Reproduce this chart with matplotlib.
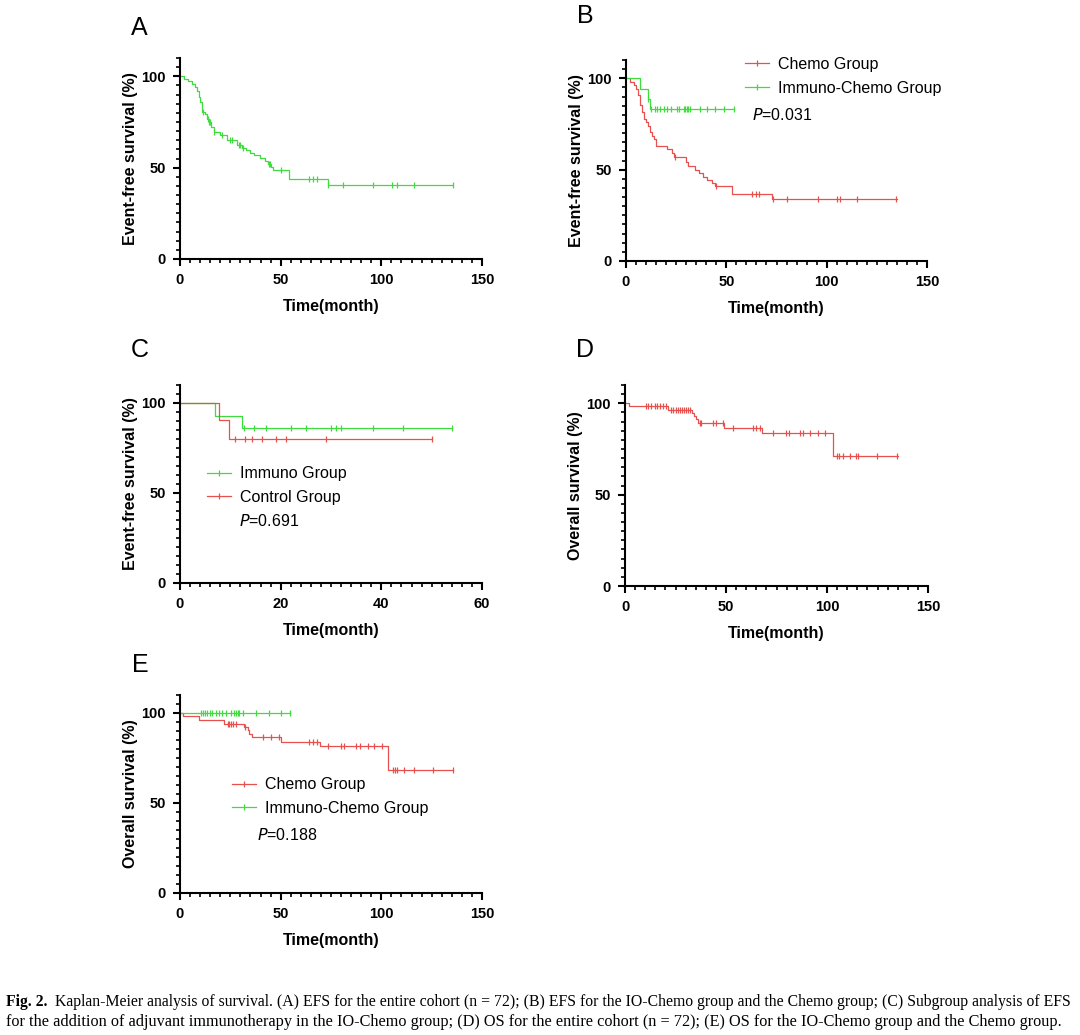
import numpy as np
import matplotlib
matplotlib.use("Agg")
import matplotlib.pyplot as plt
from matplotlib.lines import Line2D
from matplotlib.ticker import MultipleLocator

plt.rcParams['font.family'] = ['Liberation Sans', 'DejaVu Sans']

RED = '#e8504e'
GREEN = '#3fdc3f'

# ---- A: EFS entire cohort ----
a_t = [0, 2, 4, 6, 7.5, 8.5, 9.5, 10, 11, 12.5, 13.5, 14.5, 15.5, 17, 20, 23.5, 28.5,
       31, 33, 35, 37, 39.5, 42, 43.5, 45.3, 46.3, 54, 73.3]
a_s = [100, 98.6, 97.2, 95.8, 94.4, 91.7, 88.9, 86.1, 80.6, 79.2, 76.4, 75.0, 72.2, 69.4,
       68.0, 65.2, 62.5, 61.0, 59.6, 58.2, 56.7, 55.2, 53.7, 52.1, 50.6, 48.9, 43.6, 40.6]
a_end = 135.5
a_cens = [11.2, 14, 14.5, 15, 17, 21, 25, 26, 29.5, 30, 31.5, 44, 44.5, 50, 64, 66, 68,
          73.5, 81, 96, 105.5, 108, 116, 135.5]

# ---- B: EFS IO-Chemo vs Chemo ----
b_chemo_t = [0, 2, 3.8, 5, 6, 7, 8, 9, 10, 10.8, 12, 13, 13.8, 15, 20.4, 23, 24, 30, 31,
             34.5, 36.6, 38.6, 40.3, 42.8, 44.4, 52.7, 72.6]
b_chemo_s = [100, 98.1, 96.3, 94.4, 90.7, 85.2, 81.5, 77.8, 75.9, 74.1, 70.4, 68.5, 66.7,
             63.0, 61.1, 59.3, 56.7, 54.4, 51.9, 49.8, 47.9, 46.1, 44.6, 42.9, 41.1, 36.8, 33.9]
b_chemo_end = 135
b_chemo_cens = [24.5, 44.8, 63, 64.7, 66.3, 73.5, 80, 95.5, 105, 106.6, 115, 134.8]
b_io_t = [0, 7, 11, 12]
b_io_s = [100, 94.4, 88.9, 83.3]
b_io_end = 54
b_io_cens = [11, 12.5, 14.3, 15.4, 17, 19, 20.4, 22.4, 25.4, 26.4, 28.7, 29.5, 30.3, 30.8,
             32, 37, 40.3, 44.4, 48.6, 53.6]

# ---- C: subgroup EFS ----
c_imm_t = [0, 7, 12.3]
c_imm_s = [100, 92.9, 86.0]
c_imm_end = 54.1
c_imm_cens = [12.7, 14.7, 17, 22, 25, 30, 31, 32, 38.3, 44.3, 54.1]
c_ctl_t = [0, 7.8, 9.8]
c_ctl_s = [100, 90.5, 80.0]
c_ctl_end = 50.1
c_ctl_cens = [11, 13, 14.3, 16.3, 19, 21, 29, 50.1]

# ---- D: OS entire cohort ----
d_t = [0, 2, 21.3, 33, 34, 35, 36, 49, 68, 102.8]
d_s = [100, 98.5, 96.4, 94.8, 93.0, 91.2, 89.4, 86.7, 83.8, 71.0]
d_end = 135
d_cens = [10.2, 11.4, 13, 14.7, 15.9, 17.2, 18.8, 20.5, 23, 24, 25, 26, 27, 28, 29, 30,
          31, 32, 37, 37.5, 43.6, 45, 48.6, 53.6, 63.5, 65, 66.8, 73.4, 79.7, 81.3, 86.6,
          88.3, 91.6, 95.7, 99, 104.8, 106, 107.8, 111.4, 114.4, 115.5, 124.6, 134.9]

# ---- E: OS IO-Chemo vs Chemo ----
e_chemo_t = [0, 1.5, 9.5, 22, 32, 33.6, 34.5, 36, 50.2, 69.4, 103.5]
e_chemo_s = [100, 98.1, 96.0, 94.1, 92.2, 90.3, 88.4, 86.5, 84.0, 81.8, 68.6]
e_chemo_end = 135.5
e_chemo_cens = [23.6, 24.5, 25.5, 26.5, 27.8, 32.3, 41.1, 45.3, 49.4, 64, 66, 68, 73.7,
                80.2, 81.5, 87.4, 89.4, 93.5, 96.3, 100.2, 106, 107, 108, 111.3, 116,
                125.6, 135.4]
e_io_t = [0]
e_io_s = [100]
e_io_end = 54.4
e_io_cens = [10.3, 11.5, 12.5, 13.6, 14.8, 16.1, 17.8, 19.5, 21.1, 22.8, 25.3, 27, 27.8,
             28.6, 29.5, 31.1, 37.8, 44.4, 50.2, 54.4]


def km(ax, t, s, end, cens, color):
    ax.step(t + [end], s + [s[-1]], where='post', color=color, lw=0.9)
    idx = np.searchsorted(t, cens, side='right') - 1
    ax.plot(cens, np.array(s)[idx], ls='none', marker='|', ms=5, mew=0.9, color=color)


def style(ax, xmax, xmajor, xminor, ylabel):
    ax.set_xlim(0, xmax)
    ax.set_ylim(0, 110)
    ax.spines[['top', 'right']].set_visible(False)
    for sp in ('left', 'bottom'):
        ax.spines[sp].set_linewidth(1.5)
    ax.xaxis.set_major_locator(MultipleLocator(xmajor))
    ax.xaxis.set_minor_locator(MultipleLocator(xminor))
    ax.set_yticks([0, 50, 100])
    ax.yaxis.set_minor_locator(MultipleLocator(5))
    ax.tick_params(which='major', direction='out', length=5, width=1.5, labelsize=10.5, pad=5)
    ax.tick_params(which='minor', direction='out', length=3, width=1.2)
    for lab in ax.get_xticklabels() + ax.get_yticklabels():
        lab.set_fontweight('bold')
    ax.set_xlabel('Time(month)', fontsize=11.5, fontweight='bold')
    ax.set_ylabel(ylabel, fontsize=11.5, fontweight='bold')
    ax.yaxis.set_label_coords(-0.138, 0.5)
    ax.xaxis.set_label_coords(0.5, -0.2)


def legend(ax, entries, x, y):
    handles = [Line2D([0], [0], color=c, lw=0.9, marker='|', ms=5, mew=0.9) for c, _ in entries]
    ax.legend(handles, [l for _, l in entries], loc='center left', bbox_to_anchor=(x, y),
              frameon=False, fontsize=11.5, handlelength=1.5, handletextpad=0.6,
              labelspacing=0.55, borderpad=0, borderaxespad=0, numpoints=1)


def pval(ax, x, y, val):
    ax.text(x, y, r'$\it{P}$=' + val, transform=ax.transAxes, fontsize=11.5, va='center', ha='left')


W, H = 1080, 1035
fig = plt.figure(figsize=(W / 100, H / 100), dpi=100)


def box(left, right, bottom, height):
    return [left / W, (H - bottom) / H, (right - left) / W, height / H]


axA = fig.add_axes(box(180, 482, 259, 201))
axB = fig.add_axes(box(626, 927, 261, 201))
axC = fig.add_axes(box(180, 482, 583, 198))
axD = fig.add_axes(box(625, 928, 586, 201))
axE = fig.add_axes(box(180, 482, 893, 198))

km(axA, a_t, a_s, a_end, a_cens, GREEN)
style(axA, 150, 50, 5, 'Event-free survival (%)')

km(axB, b_chemo_t, b_chemo_s, b_chemo_end, b_chemo_cens, RED)
km(axB, b_io_t, b_io_s, b_io_end, b_io_cens, GREEN)
style(axB, 150, 50, 5, 'Event-free survival (%)')
legend(axB, [(RED, 'Chemo Group'), (GREEN, 'Immuno-Chemo Group')], 0.395, 0.918)
pval(axB, 0.419, 0.726, '0.031')

km(axC, c_imm_t, c_imm_s, c_imm_end, c_imm_cens, GREEN)
km(axC, c_ctl_t, c_ctl_s, c_ctl_end, c_ctl_cens, RED)
style(axC, 60, 20, 2, 'Event-free survival (%)')
legend(axC, [(GREEN, 'Immuno Group'), (RED, 'Control Group')], 0.089, 0.492)
pval(axC, 0.195, 0.313, '0.691')

km(axD, d_t, d_s, d_end, d_cens, RED)
style(axD, 150, 50, 5, 'Overall survival (%)')

km(axE, e_chemo_t, e_chemo_s, e_chemo_end, e_chemo_cens, RED)
km(axE, e_io_t, e_io_s, e_io_end, e_io_cens, GREEN)
style(axE, 150, 50, 5, 'Overall survival (%)')
legend(axE, [(RED, 'Chemo Group'), (GREEN, 'Immuno-Chemo Group')], 0.172, 0.487)
pval(axE, 0.255, 0.293, '0.188')

for letter, px, py in [('A', 139, 28), ('B', 585, 16), ('C', 140, 350), ('D', 585, 350), ('E', 140, 665)]:
    fig.text(px / W, 1 - py / H, letter, fontsize=18, ha='center', va='center')

# caption
cap1 = ('Kaplan-Meier analysis of survival. (A) EFS for the entire cohort (n = 72); (B) EFS for the '
        'IO-Chemo group and the Chemo group; (C) Subgroup analysis of EFS')
cap2 = ('for the addition of adjuvant immunotherapy in the IO-Chemo group; (D) OS for the entire '
        'cohort (n = 72); (E) OS for the IO-Chemo group and the Chemo group.')
serif = ['Liberation Serif', 'DejaVu Serif']
t0 = fig.text(6 / W, 1 - 1002 / H, 'Fig. 2.', fontsize=11.3, fontweight='bold', family=serif, va='center')
fig.canvas.draw()
bb = t0.get_window_extent()
fig.text((bb.x1 + 7) / W, 1 - 1002 / H, cap1, fontsize=11.3, family=serif, va='center')
fig.text(6 / W, 1 - 1022 / H, cap2, fontsize=11.7, family=serif, va='center')

fig.savefig('out.png', dpi=100)
